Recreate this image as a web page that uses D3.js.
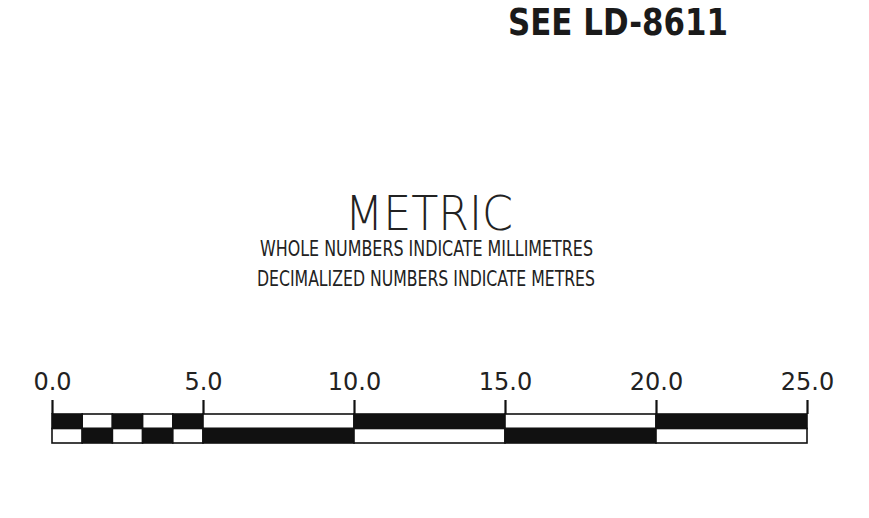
<!DOCTYPE html>
<html><head><meta charset="utf-8">
<script src="https://cdn.jsdelivr.net/npm/d3@7"></script>
<style>html,body{margin:0;padding:0;background:#fff;} text{-webkit-font-smoothing:antialiased;}</style>
</head><body>
<svg id="c" width="869" height="518"></svg>
<script>
// ---- data ----
const refText = "SEE LD-8611";
const titleText = "METRIC";
const noteLines = ["WHOLE NUMBERS INDICATE MILLIMETRES", "DECIMALIZED NUMBERS INDICATE METRES"];
const tickValues = [0, 5, 10, 15, 20, 25];
const tickLabels = ["0.0", "5.0", "10.0", "15.0", "20.0", "25.0"];
const segmentBounds = [0, 1, 2, 3, 4, 5, 10, 15, 20, 25];
const topRowDark = [1, 0, 1, 0, 1, 0, 1, 0, 1];
const bottomRowDark = [0, 1, 0, 1, 0, 1, 0, 1, 0];

// ---- drawing ----
const svg = d3.select("#c");
const ink = "#111";
const x = d3.scaleLinear().domain([0, 25]).range([52, 807]);

svg.append("text").attr("x", 508).attr("y", 35)
  .attr("font-family", "DejaVu Sans").attr("font-weight", "bold").attr("font-size", 37)
  .attr("textLength", 220).attr("lengthAdjust", "spacingAndGlyphs")
  .attr("fill", "#1a1a1a").text(refText);

svg.append("text").attr("x", 345).attr("y", 230)
  .attr("font-family", "DejaVu Sans").attr("font-weight", 200).attr("font-size", 48)
  .attr("textLength", 168).attr("lengthAdjust", "spacingAndGlyphs")
  .attr("fill", "#222").text(titleText);

const noteX = [260, 257], noteW = [333, 338], noteY = [256, 286];
noteLines.forEach((t, i) => {
  svg.append("text").attr("x", noteX[i]).attr("y", noteY[i])
    .attr("font-family", "DejaVu Sans Condensed, DejaVu Sans").attr("font-size", 21)
    .attr("textLength", noteW[i]).attr("lengthAdjust", "spacingAndGlyphs")
    .attr("fill", "#222").text(t);
});

// tick labels via axis
const axis = d3.axisTop(x).tickValues(tickValues).tickFormat((d, i) => tickLabels[i]).tickSize(14).tickPadding(10);
const g = svg.append("g").attr("transform", "translate(0,414)").call(axis);
g.select(".domain").remove();
g.selectAll(".tick line").attr("stroke", ink).attr("stroke-width", 2.2);
g.selectAll(".tick text").attr("font-family", "DejaVu Sans").attr("font-size", 24)
  .attr("fill", "#222");

// bar rows
const rowTop = 414, rowMid = 428.5, rowBot = 443;
const segs = d3.range(segmentBounds.length - 1).map(i => ({a: segmentBounds[i], b: segmentBounds[i + 1], top: topRowDark[i], bot: bottomRowDark[i]}));
const bar = svg.append("g");
bar.selectAll("rect.t").data(segs).join("rect").attr("class", "t")
  .attr("x", d => x(d.a)).attr("width", d => x(d.b) - x(d.a))
  .attr("y", rowTop).attr("height", rowMid - rowTop)
  .attr("fill", d => d.top ? ink : "#fff").attr("stroke", ink).attr("stroke-width", 1.6);
bar.selectAll("rect.b").data(segs).join("rect").attr("class", "b")
  .attr("x", d => x(d.a)).attr("width", d => x(d.b) - x(d.a))
  .attr("y", rowMid).attr("height", rowBot - rowMid)
  .attr("fill", d => d.bot ? ink : "#fff").attr("stroke", ink).attr("stroke-width", 1.6);
</script>
</body></html>
